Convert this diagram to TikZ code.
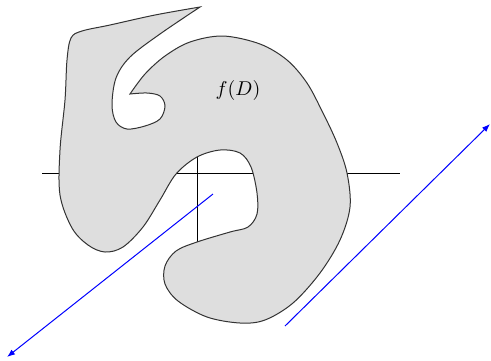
\documentclass[tikz,border=0pt]{standalone}
\usetikzlibrary{arrows.meta}
\begin{document}
\begin{tikzpicture}[x=0.5pt,y=-0.5pt,
  region/.style={fill=black!13,draw=black!80,line width=0.5pt},
  axis/.style={draw=black,line width=0.5pt},
  vec/.style={draw=blue,line width=0.5pt,-{Latex[length=4pt,width=3pt]}}]
\useasboundingbox (0,0) rectangle (491,360);
% axes (under the region)
\coordinate (xl) at (42,173);
\coordinate (xr) at (400,173);
\coordinate (yt) at (197,120);
\coordinate (yb) at (197,280);
\draw[axis] (xl) -- (xr);
\draw[axis] (yt) -- (yb);
% region f(D)
\path[region] plot[smooth,tension=0.55] coordinates {
 (200,7) (155,15) (110,25) (82,31) (71,38) (67,60) (65,100) (60,150)
 (60,195) (72,228) (88,245) (105,252) (123,247) (143,227) (160,200)
 (176,174) (197,157) (220,150) (240,153) (251,167) (257,193) (257,214)
 (248,227) (230,232) (197,242) (176,251) (165,266) (165,284) (178,301)
 (207,317) (240,323) (265,320) (293,303) (320,273) (340,240) (350,207)
 (347,173) (337,143) (323,113) (307,83) (287,60) (260,44) (223,36)
 (190,42) (165,56) (145,74) (130,94)}
 -- plot[smooth,tension=0.55] coordinates {
 (130,94) (147,93) (160,96) (165,106) (160,119) (145,126) (127,129)
 (116,122) (112,105) (116,78) (130,57) (160,34) (200,7)} -- cycle;
\node (lbl) at (238,90) {$f(D)$};
% vectors
\coordinate (a1) at (213,194);
\coordinate (a2) at (7,357);
\coordinate (b1) at (285,326);
\coordinate (b2) at (490,124);
\draw[vec] (a1) -- (a2);
\draw[vec] (b1) -- (b2);
\end{tikzpicture}
\end{document}
